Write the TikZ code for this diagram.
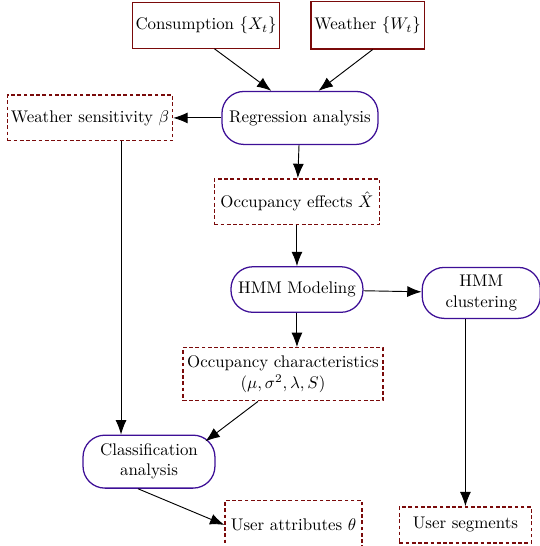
\documentclass[tikz,border=0pt]{standalone}
\usepackage{xcolor}
\usepackage{amssymb}
\usepackage{tikz}
\usetikzlibrary{arrows.meta,calc,positioning}
\definecolor{datEdge}{HTML}{7A0A0A}
\definecolor{procEdge}{HTML}{3D0F96}
\tikzset{
  datbox/.style={draw=datEdge, line width=0.7pt, align=center, inner sep=2pt,
        minimum height=27pt},
  resbox/.style={draw=datEdge, line width=0.85pt, dash pattern=on 2.2pt off 1.5pt,
        align=center, inner sep=2pt, minimum height=27pt},
  procbox/.style={draw=procEdge, line width=0.75pt, rounded corners=13pt, align=center,
        inner sep=2pt, minimum height=27pt},
  arr/.style={-{Latex[length=8.5pt,width=6.5pt]}, line width=0.55pt},
}
\begin{document}
\begin{tikzpicture}[node distance=20pt and 30pt]
  \useasboundingbox (-177.8pt,69.9pt) rectangle (141.7pt,-253.7pt);
  \node[procbox, minimum width=92.5pt, minimum height=31.4pt] (reg) {Regression analysis};
  \node[resbox, left=28.5pt of reg, minimum width=97.2pt] (sens) {Weather sensitivity $\beta$};
  \node[datbox, above=24.9pt of reg, xshift=-55.7pt, minimum width=86.5pt] (cons) {Consumption $\{X_t\}$};
  \node[datbox, right=17.8pt of cons, minimum width=65.8pt, minimum height=27.9pt] (wea) {Weather $\{W_t\}$};
  \node[resbox, below=19.6pt of reg, xshift=-1.8pt, minimum width=97.8pt] (occ) {Occupancy effects $\hat{X}$};
  \node[procbox, below=24.3pt of occ, minimum width=78.2pt] (hmm) {HMM Modeling};
  \node[procbox, right=34.4pt of hmm, yshift=-2pt, minimum width=70pt, minimum height=30.2pt] (clus) {HMM\\clustering};
  \node[resbox, below=20.2pt of hmm, xshift=-8.3pt, minimum width=118.6pt, minimum height=31.4pt] (chr) {Occupancy characteristics\\$(\mu,\sigma^2,\lambda,S)$};
  \node[procbox, below=19.6pt of chr, xshift=-79.4pt, minimum width=78.2pt, minimum height=31.4pt] (cls) {Classification\\analysis};
  \node[resbox, below=6.5pt of cls, xshift=85.7pt, minimum width=81.2pt, minimum height=29pt] (attr) {User attributes $\theta$};
  \node[resbox, right=21.3pt of attr, minimum width=78.2pt, minimum height=21.3pt] (seg) {User segments};
  % edges
  \draw[arr] ([xshift=5pt]cons.south) -- ([xshift=-17pt]reg.north);
  \draw[arr] ([xshift=3pt]wea.south) -- ([xshift=11pt]reg.north);
  \draw[arr] (reg) -- (sens);
  \draw[arr] (reg) -- (occ);
  \draw[arr] (occ) -- (hmm);
  \draw[arr] (hmm) -- (clus);
  \draw[arr] (hmm) -- (hmm |- chr.north);
  \draw[arr] ([xshift=18.4pt]sens.south) -- ([xshift=18.4pt]sens.south |- cls.north);
  \draw[arr] ([xshift=-14.8pt]chr.south) -- ([xshift=-6pt,yshift=-4pt]cls.north east);
  \draw[arr] ([xshift=-6.5pt]cls.south) -- (attr.west);
  \draw[arr] (seg |- clus.south) -- (seg.north);
\end{tikzpicture}
\end{document}
